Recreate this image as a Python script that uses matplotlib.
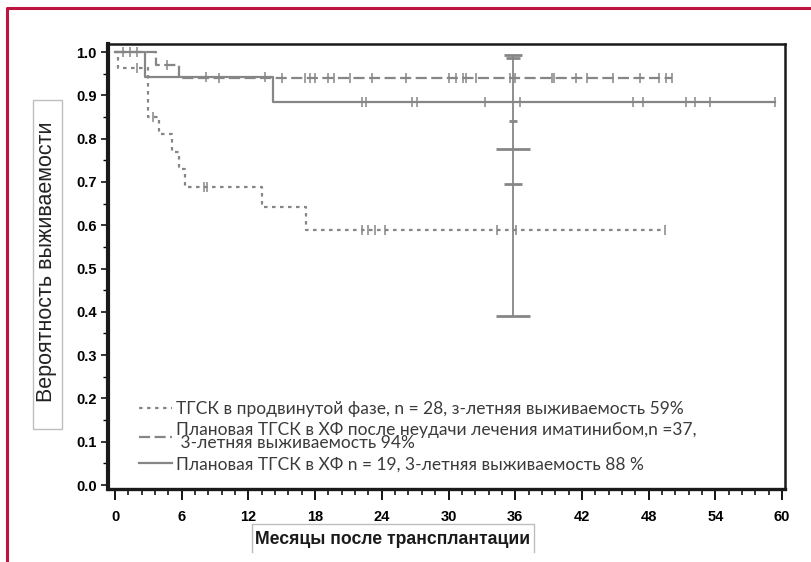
import matplotlib
matplotlib.use("Agg")
import matplotlib.pyplot as plt
import numpy as np
from matplotlib.lines import Line2D
from matplotlib.ticker import MultipleLocator, FormatStrFormatter
from matplotlib.patches import Rectangle
from matplotlib.font_manager import FontProperties

# ---------------- data ----------------
# Advanced phase (dotted), n = 28
adv_t = [0, 0.25, 3.0, 4.0, 5.1, 5.8, 6.3, 13.2, 17.2, 49.5]
adv_s = [1.0, 0.964, 0.850, 0.811, 0.770, 0.729, 0.689, 0.643, 0.590, 0.590]
adv_cens = [2.0, 3.4, 8.0, 8.3, 22.2, 22.8, 23.4, 24.3, 34.4, 36.1, 49.5]

# Planned after imatinib failure (dashed), n = 37
ima_t = [0, 3.7, 5.8, 50.1]
ima_s = [1.0, 0.971, 0.941, 0.941]
ima_cens = [0.75, 1.95, 4.7, 9.4, 15.0, 17.1, 17.5, 18.0, 19.2, 19.7, 21.1, 23.1,
            26.2, 30.0, 30.7, 31.3, 31.6, 32.5, 35.5, 36.0, 39.3, 39.5, 41.5,
            42.5, 44.8, 47.2, 48.9, 49.6, 50.1]

# Planned in chronic phase (solid), n = 19
cp_t = [0, 2.7, 14.2, 59.4]
cp_s = [1.0, 0.942, 0.885, 0.885]
cp_cens = [1.35, 8.2, 13.5, 22.2, 22.6, 26.7, 27.2, 33.3, 36.4, 46.6, 47.5,
           51.4, 52.2, 53.5, 59.4]

# Confidence interval bars at 36 months
ci_x = 35.8
ci_levels = [0.993, 0.986, 0.841, 0.775, 0.695, 0.390]
ci_halfw = [0.85, 0.6, 0.35, 1.55, 0.85, 1.55]

x_ticks = [0, 6, 12, 18, 24, 30, 36, 42, 48, 54, 60]
y_ticks = [0.0, 0.1, 0.2, 0.3, 0.4, 0.5, 0.6, 0.7, 0.8, 0.9, 1.0]

labels = [
    "ТГСК в продвинутой фазе, n = 28, з-летняя выживаемость 59%",
    "Плановая ТГСК в ХФ после неудачи лечения иматинибом,n =37,\n 3-летняя выживаемость 94%",
    "Плановая ТГСК в ХФ n = 19, 3-летняя выживаемость 88 %",
]
x_label = "Месяцы после трансплантации"
y_label = "Вероятность выживаемости"

# ---------------- style ----------------
GREY = "#868686"
W, H = 812, 562
fig = plt.figure(figsize=(W / 100, H / 100), dpi=100)
ax = fig.add_axes([108 / W, 1 - 489 / H, (785 - 108) / W, (489 - 44) / H])

dotted = (0, (1.6, 2.0))
dashed = (0, (5, 2))

def surv_at(ts, ss, t):
    idx = np.searchsorted(ts, t, side="right") - 1
    return ss[max(idx, 0)]

series = [
    (adv_t, adv_s, adv_cens, dotted),
    (ima_t, ima_s, ima_cens, dashed),
    (cp_t, cp_s, cp_cens, "-"),
]
handles = []
for ts, ss, cens, ls in series:
    ax.step(ts, ss, where="post", color=GREY, lw=1.6, linestyle=ls)
    cy = [surv_at(ts, ss, c) for c in cens]
    ax.plot(cens, cy, linestyle="none", marker="|", markersize=6.5,
            markeredgewidth=1.1, color=GREY)
    handles.append(Line2D([], [], color=GREY, lw=1.6, linestyle=ls))

# CI bar
ax.vlines(ci_x, min(ci_levels), max(ci_levels), color=GREY, lw=1.3)
for lv, hw in zip(ci_levels, ci_halfw):
    ax.hlines(lv, ci_x - hw, ci_x + hw, color=GREY, lw=2.0)

ax.set_xlim(-0.63, 60.27)
ax.set_ylim(-0.0092, 1.0185)
ax.set_xticks(x_ticks)
ax.set_yticks(y_ticks)
ax.xaxis.set_minor_locator(MultipleLocator(1.2))
ax.yaxis.set_minor_locator(MultipleLocator(0.05))
ax.yaxis.set_major_formatter(FormatStrFormatter("%.1f"))

tick_fp = FontProperties(family="Liberation Sans", weight="bold", size=10.5)
for lab in ax.get_xticklabels() + ax.get_yticklabels():
    lab.set_fontproperties(tick_fp)
ax.tick_params(axis="x", which="major", direction="out", length=8, width=1.3, pad=7)
ax.tick_params(axis="x", which="minor", direction="out", length=4.5, width=1.1)
ax.tick_params(axis="y", which="major", direction="out", length=5, width=1.1, pad=3)
ax.tick_params(axis="y", which="minor", direction="out", length=3.5, width=1.0)

for side, lw in (("left", 3.0), ("bottom", 2.4), ("top", 1.8), ("right", 1.8)):
    ax.spines[side].set_linewidth(lw)
    ax.spines[side].set_color("#1a1a1a")

leg = ax.legend(handles, labels, loc="lower left", bbox_to_anchor=(0.035, 0.022),
                frameon=False, handlelength=1.9, handletextpad=0.25,
                labelspacing=0.28, borderaxespad=0,
                prop=dict(family="Lato", size=12.5))
for t in leg.get_texts():
    t.set_color("#3a3a3a")
    t.set_linespacing(0.8)

# axis labels in boxes
fig.text(47 / W, 1 - 262 / H, y_label, rotation=90, ha="center", va="center",
         family="Liberation Sans", size=15.5, color="#222222")
fig.add_artist(Rectangle((33 / W, 1 - 429 / H), 29 / W, 329 / H,
                         transform=fig.transFigure, fill=False,
                         edgecolor="#bdbdbd", lw=1.0))
fig.text(393 / W, 1 - 540 / H, x_label, ha="center", va="center",
         family="Liberation Sans", weight="bold", size=12.7, color="#1a1a1a")
fig.add_artist(Line2D([252 / W, 252 / W, 534 / W, 534 / W],
                      [1 - 552 / H, 1 - 524 / H, 1 - 524 / H, 1 - 552 / H],
                      transform=fig.transFigure, color="#bdbdbd", lw=1.0))

# red frame
RED = "#bd1440"
fig.add_artist(Line2D([7 / W, 7 / W, 1.0], [0.0, 1 - 8 / H, 1 - 8 / H],
                      transform=fig.transFigure, color=RED, lw=2.2))

fig.savefig("out.png", dpi=100)
